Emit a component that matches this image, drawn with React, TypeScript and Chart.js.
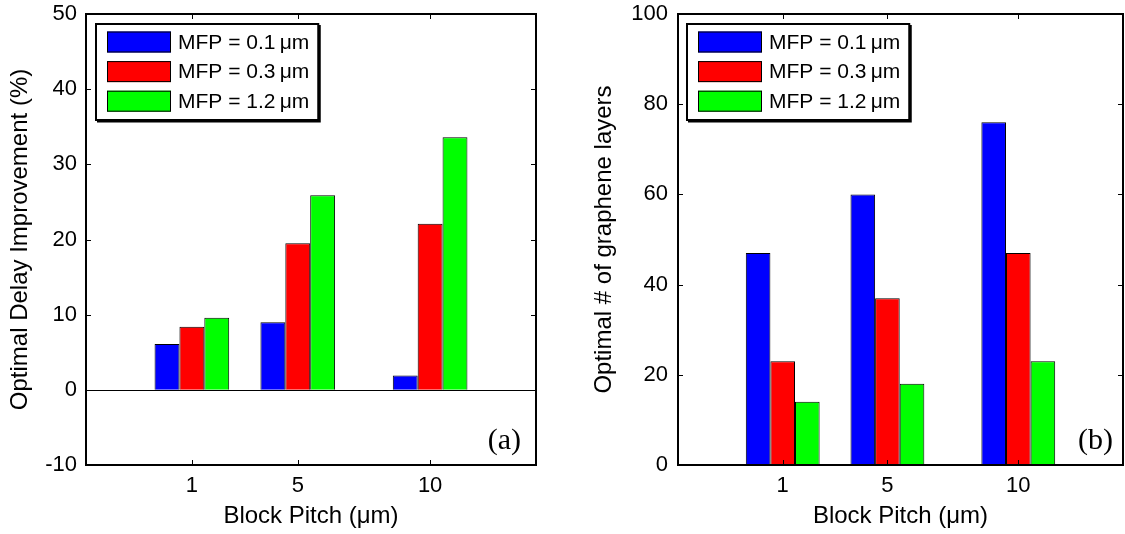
import React, { useEffect, useRef } from 'react';
import { Chart, registerables } from 'chart.js';

Chart.register(...registerables);

// ---- data ----
const pitches = [1, 5, 10];
const pitchRange = [-3, 14];
const seriesLabels = ['MFP = 0.1\u2009\u03bcm', 'MFP = 0.3\u2009\u03bcm', 'MFP = 1.2\u2009\u03bcm'];
const seriesColors = ['#0000ff', '#ff0000', '#00ff00'];

const delayMfp01 = [6.1, 9.0, 1.9];
const delayMfp03 = [8.4, 19.5, 22.1];
const delayMfp12 = [9.6, 25.9, 33.6];
const delayTicks = [-10, 0, 10, 20, 30, 40, 50];

const layersMfp01 = [47, 60, 76];
const layersMfp03 = [23, 37, 47];
const layersMfp12 = [14, 18, 23];
const layersTicks = [0, 20, 40, 60, 80, 100];

const xTitle = 'Block Pitch (\u03bcm)';
const delayTitle = 'Optimal Delay Improvement (%)';
const layersTitle = 'Optimal # of graphene layers';
const panelLabels = ['(a)', '(b)'];

const SANS = '"Liberation Sans", Arial, Helvetica, sans-serif';
const SERIF = '"Liberation Serif", "Times New Roman", serif';
const H = 534;
const AREA_TOP = 14;
const AREA_BOTTOM = 465;

const decoPlugin = {
  id: 'matlabDeco',
  beforeDatasetsDraw(chart: any, _args: any, opts: any) {
    if (!opts.zeroLine) return;
    const { ctx, chartArea: a, scales } = chart;
    const py = Math.round(scales.y.getPixelForValue(0)) + 0.5;
    ctx.save();
    ctx.strokeStyle = '#000';
    ctx.lineWidth = 1;
    ctx.beginPath();
    ctx.moveTo(a.left, py);
    ctx.lineTo(a.right, py);
    ctx.stroke();
    ctx.restore();
  },
  afterDraw(chart: any, _args: any, opts: any) {
    const { ctx, chartArea: a, scales } = chart;
    const x = scales.x;
    const y = scales.y;
    ctx.save();
    // inner ticks on all four sides
    ctx.strokeStyle = '#000';
    ctx.lineWidth = 1;
    const tl = 5;
    ctx.beginPath();
    y.ticks.forEach((t: any) => {
      const p = Math.round(y.getPixelForValue(t.value)) + 0.5;
      ctx.moveTo(a.left, p);
      ctx.lineTo(a.left + tl, p);
      ctx.moveTo(a.right, p);
      ctx.lineTo(a.right - tl, p);
    });
    x.ticks.forEach((t: any) => {
      const p = Math.round(x.getPixelForValue(t.value)) + 0.5;
      ctx.moveTo(p, a.bottom);
      ctx.lineTo(p, a.bottom - tl);
      ctx.moveTo(p, a.top);
      ctx.lineTo(p, a.top + tl);
    });
    ctx.stroke();
    // axes box
    ctx.lineWidth = 2;
    ctx.strokeRect(a.left, a.top, a.right - a.left, a.bottom - a.top);

    // legend
    ctx.font = '21px ' + SANS;
    const ds = chart.data.datasets;
    const textW = Math.max(...ds.map((d: any) => ctx.measureText(d.label).width));
    const sw = 64, sh = 21, rowH = 29.6;
    const bx = a.left + opts.legendDx;
    const by = 24;
    const bw = 11 + sw + 7 + textW + 9;
    const bh = 96;
    ctx.fillStyle = '#000';
    ctx.fillRect(bx + 1, by + 1, bw + 1.5, bh + 1.5);
    ctx.fillStyle = '#fff';
    ctx.fillRect(bx, by, bw, bh);
    ctx.lineWidth = 2;
    ctx.strokeStyle = '#000';
    ctx.strokeRect(bx, by, bw, bh);
    ctx.textAlign = 'left';
    ctx.textBaseline = 'middle';
    ds.forEach((d: any, i: number) => {
      const cy = by + 18 + i * rowH;
      ctx.fillStyle = d.backgroundColor;
      ctx.fillRect(bx + 11, cy - sh / 2, sw, sh);
      ctx.lineWidth = 1;
      ctx.strokeStyle = '#000';
      ctx.strokeRect(bx + 11 + 0.5, cy - sh / 2 + 0.5, sw - 1, sh - 1);
      ctx.fillStyle = '#000';
      ctx.fillText(d.label, bx + 11 + sw + 7, cy + 1);
    });

    // panel label
    ctx.font = '30px ' + SERIF;
    ctx.textAlign = 'right';
    ctx.textBaseline = 'middle';
    ctx.fillStyle = '#000';
    ctx.fillText(opts.panel, a.right - opts.panelDx, a.bottom - 24);
    ctx.restore();
  },
};

type PanelCfg = {
  series: number[][];
  yTicks: number[];
  yTitle: string;
  panel: string;
  zeroLine: boolean;
  areaLeft: number;
  padRight: number;
  yTitlePad: number;
  yTickPad: number;
  legendDx: number;
  panelDx: number;
};

function makeConfig(c: PanelCfg): any {
  return {
    type: 'bar',
    data: {
      datasets: c.series.map((vals, i) => ({
        label: seriesLabels[i],
        data: pitches.map((p, j) => ({ x: p, y: vals[j] })),
        backgroundColor: seriesColors[i],
        borderColor: '#000',
        borderWidth: 1,
        categoryPercentage: 0.705,
        barPercentage: 1,
      })),
    },
    options: {
      responsive: false,
      animation: false,
      devicePixelRatio: 1,
      layout: { padding: { top: AREA_TOP, right: c.padRight, left: 0, bottom: 0 } },
      plugins: {
        legend: { display: false },
        tooltip: { enabled: false },
        matlabDeco: {
          panel: c.panel,
          zeroLine: c.zeroLine,
          legendDx: c.legendDx,
          panelDx: c.panelDx,
        },
      },
      scales: {
        x: {
          type: 'linear',
          min: pitchRange[0],
          max: pitchRange[1],
          offset: false,
          grid: { display: false, drawTicks: false },
          border: { display: false },
          afterBuildTicks: (s: any) => {
            s.ticks = pitches.map((v) => ({ value: v }));
          },
          afterFit: (s: any) => {
            s.height = H - AREA_BOTTOM;
            s.paddingLeft = 0;
            s.paddingRight = 0;
          },
          ticks: {
            color: '#000',
            padding: 8,
            font: { family: SANS, size: 22 },
            callback: (v: any) => String(v),
          },
          title: {
            display: true,
            text: xTitle,
            color: '#000',
            font: { family: SANS, size: 24 },
            padding: { top: 0, bottom: 3 },
          },
        },
        y: {
          type: 'linear',
          min: c.yTicks[0],
          max: c.yTicks[c.yTicks.length - 1],
          grid: { display: false, drawTicks: false },
          border: { display: false },
          afterBuildTicks: (s: any) => {
            s.ticks = c.yTicks.map((v) => ({ value: v }));
          },
          afterFit: (s: any) => {
            s.width = c.areaLeft;
            s.paddingTop = 0;
            s.paddingBottom = 0;
          },
          ticks: {
            color: '#000',
            padding: c.yTickPad,
            font: { family: SANS, size: 22 },
            callback: (v: any) => String(v),
          },
          title: {
            display: true,
            text: c.yTitle,
            color: '#000',
            font: { family: SANS, size: 24 },
            padding: { top: c.yTitlePad, bottom: 0 },
          },
        },
      },
    },
    plugins: [decoPlugin],
  };
}

function Panel({ cfg, left, width }: { cfg: PanelCfg; left: number; width: number }) {
  const ref = useRef<HTMLCanvasElement>(null);
  useEffect(() => {
    const chart = new Chart(ref.current as HTMLCanvasElement, makeConfig(cfg));
    return () => chart.destroy();
  }, []);
  return (
    <canvas
      ref={ref}
      width={width}
      height={H}
      style={{ position: 'absolute', left, top: 0, width, height: H }}
    />
  );
}

export default function App() {
  const leftCfg: PanelCfg = {
    series: [delayMfp01, delayMfp03, delayMfp12],
    yTicks: delayTicks,
    yTitle: delayTitle,
    panel: panelLabels[0],
    zeroLine: true,
    areaLeft: 86,
    padRight: 24,
    yTitlePad: 6,
    yTickPad: 9,
    legendDx: 10,
    panelDx: 15,
  };
  const rightCfg: PanelCfg = {
    series: [layersMfp01, layersMfp03, layersMfp12],
    yTicks: layersTicks,
    yTitle: layersTitle,
    panel: panelLabels[1],
    zeroLine: false,
    areaLeft: 118,
    padRight: 2,
    yTitlePad: 30,
    yTickPad: 10,
    legendDx: 9,
    panelDx: 10,
  };
  return (
    <div style={{ position: 'absolute', left: 0, top: 0, width: 1125, height: H, background: '#fff', overflow: 'hidden' }}>
      <Panel cfg={leftCfg} left={0} width={560} />
      <Panel cfg={rightCfg} left={560} width={565} />
    </div>
  );
}
